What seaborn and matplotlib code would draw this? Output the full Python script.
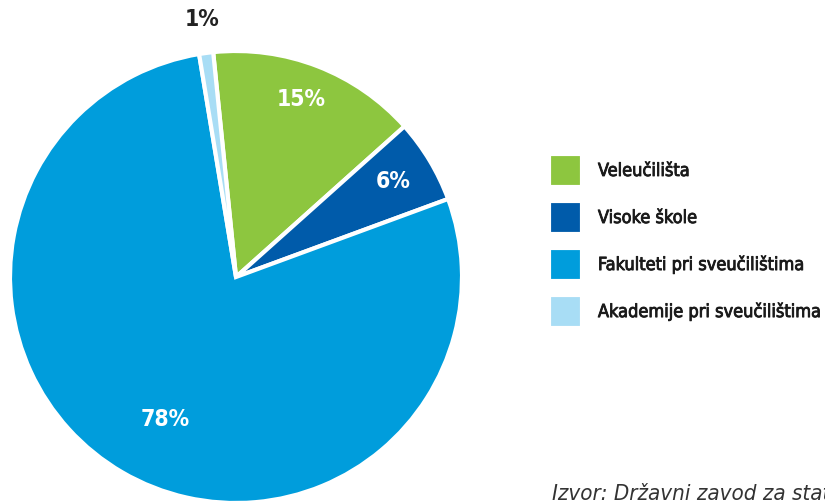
import matplotlib
matplotlib.use("Agg")
import matplotlib.pyplot as plt
import matplotlib.patheffects as pe
import seaborn as sns

categories = ['Veleučilišta', 'Visoke škole', 'Fakulteti pri sveučilištima',
              'Akademije pri sveučilištima']
shares = [15, 6, 78, 1]
pct_labels = ['15%', '6%', '78%', '1%']
colors = ['#8DC63F', '#005BAA', '#009DDC', '#A8DDF5']
source_text = 'Izvor: Državni zavod za statistiku'

sns.set_theme(style='white')
plt.rcParams['font.family'] = ['DejaVu Sans']
plt.rcParams['font.stretch'] = 'condensed'

fig = plt.figure(figsize=(8.25, 5.04), dpi=100)
ax = fig.add_axes([0, 0, 1, 1])

palette = sns.color_palette(colors)
wedges, texts = ax.pie(shares, colors=palette, startangle=95.8, counterclock=False,
                       center=(236, 227), radius=226,
                       wedgeprops={'edgecolor': 'white', 'linewidth': 3})
ax.set_xlim(0, 825)
ax.set_ylim(0, 504)
ax.set_aspect('equal')
ax.axis('off')

label_pos = [(301, 404), (393, 322), (165, 84), (202, 484)]
label_col = ['white', 'white', 'white', '#222222']
for txt, (x, y), c in zip(pct_labels, label_pos, label_col):
    ax.text(x, y, txt, ha='center', va='center', color=c,
            fontsize=16.5, fontweight='bold', fontstretch='condensed')

leg = fig.legend(wedges, categories, loc='upper left',
                 bbox_to_anchor=(549 / 825, 1 - 154 / 504),
                 frameon=False, fontsize=13, borderpad=0, borderaxespad=0,
                 handlelength=1.83, handleheight=2.43, handletextpad=0.88,
                 labelspacing=0.78)
for t in leg.get_texts():
    t.set_color('#1a1a1a')
    t.set_fontstretch('condensed')
    # slightly heavier strokes, the original uses a medium weight
    t.set_path_effects([pe.withStroke(linewidth=0.6, foreground='#1a1a1a')])

fig.text(552 / 825, 4 / 504, source_text, ha='left', va='baseline',
         fontsize=16, fontstyle='italic', color='#333333',
         fontstretch='condensed')

fig.savefig('out.png', dpi=100)
